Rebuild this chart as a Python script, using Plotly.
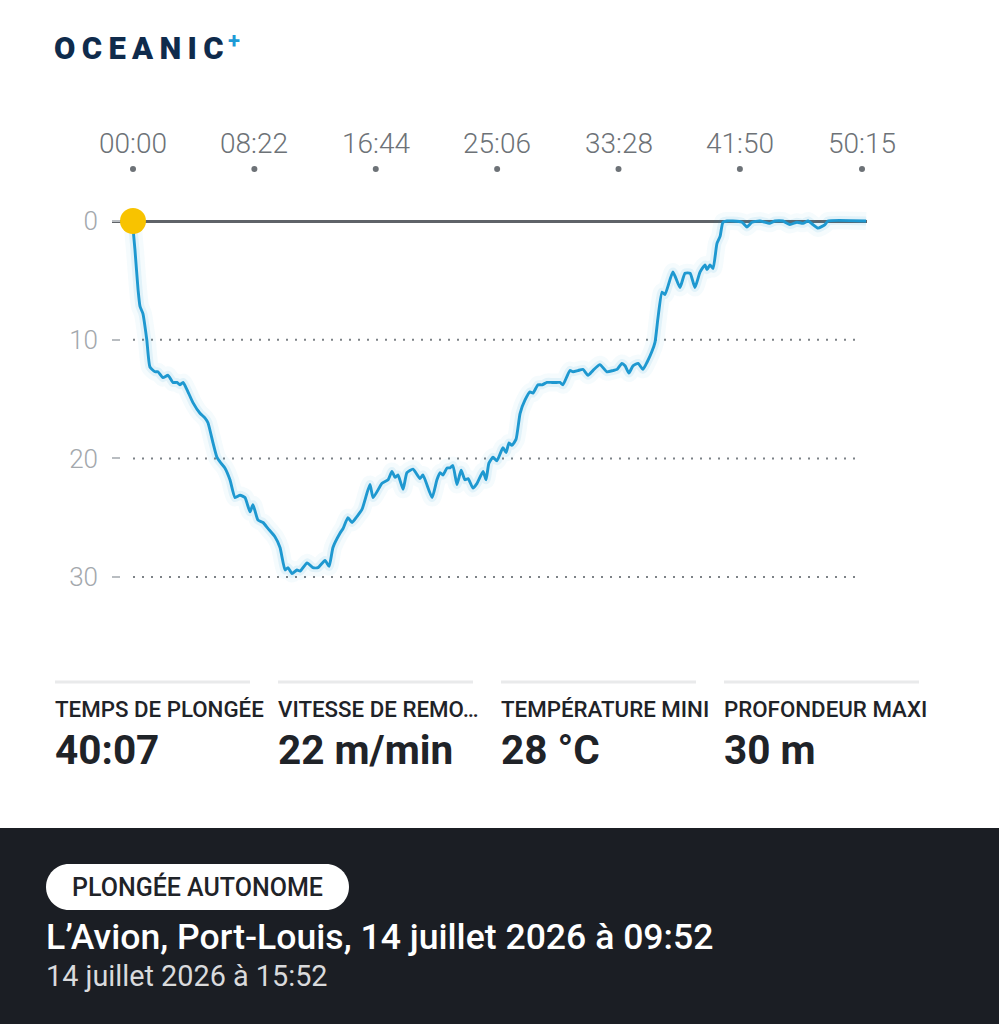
import plotly.graph_objects as go

# ---------------- data ----------------
time_s = [0, 2, 8, 21, 29, 41, 57, 70, 91, 103, 124, 145, 165, 182, 194, 207, 223, 248, 277, 298,
          310, 331, 347, 360, 380, 401, 422, 443, 463, 484, 496, 517, 538, 558, 587, 608, 629, 641,
          658, 678, 691, 720, 744, 765, 794, 811, 827, 856, 869, 889, 906, 926, 947, 980, 993, 1030,
          1055, 1071, 1084, 1096, 1117, 1133, 1158, 1187, 1199, 1237, 1257, 1270, 1282, 1299, 1311,
          1323, 1340, 1357, 1373, 1386, 1406, 1423, 1448, 1460, 1472, 1489, 1505, 1530, 1543, 1555,
          1567, 1584, 1601, 1621, 1642, 1654, 1675, 1692, 1712, 1733, 1754, 1766, 1778, 1807, 1820,
          1840, 1861, 1882, 1902, 1931, 1960, 1985, 2002, 2022, 2035, 2051, 2068, 2089, 2109, 2126,
          2146, 2159, 2171, 2188, 2200, 2233, 2262, 2283, 2304, 2324, 2345, 2366, 2374, 2386, 2399,
          2415, 2428, 2440, 2457, 2481, 2519, 2539, 2560, 2593, 2634, 2655, 2688, 2717, 2746, 2771,
          2792, 2812, 2833, 2862, 2874, 3032]
depth_m = [0.0, 1.0, 2.4, 5.8, 7.2, 7.8, 10.0, 12.3, 12.7, 12.7, 13.2, 13.0, 13.6, 13.6, 13.8, 13.6,
           14.2, 15.3, 16.2, 16.6, 17.0, 18.7, 19.9, 20.3, 20.8, 21.8, 23.3, 23.1, 23.3, 24.5, 23.9,
           25.2, 25.4, 25.9, 26.6, 27.5, 29.4, 29.2, 29.7, 29.4, 29.5, 28.8, 29.2, 29.2, 28.6, 29.1,
           27.5, 26.3, 25.9, 25.0, 25.4, 24.9, 24.3, 22.2, 23.3, 22.1, 21.8, 21.1, 21.6, 21.4, 22.6,
           21.2, 20.9, 21.7, 21.4, 23.3, 21.8, 21.2, 21.4, 20.8, 20.8, 20.6, 22.2, 21.0, 21.8, 21.7,
           22.5, 22.1, 21.1, 21.8, 20.4, 19.9, 20.2, 19.1, 19.5, 18.7, 18.9, 18.4, 16.2, 15.1, 14.4,
           14.5, 13.8, 13.8, 13.6, 13.6, 13.6, 13.6, 13.8, 12.6, 12.7, 12.6, 12.5, 13.0, 12.6, 12.1,
           12.7, 12.6, 12.5, 12.0, 12.2, 12.8, 12.2, 12.0, 12.5, 11.9, 11.0, 10.2, 8.2, 6.0, 6.2, 4.3,
           5.6, 4.4, 4.4, 5.6, 4.3, 3.7, 4.1, 3.7, 4.0, 1.9, 1.3, 0.1, 0.0, 0.0, 0.1, 0.5, 0.1, 0.0,
           0.2, 0.0, 0.0, 0.3, 0.1, 0.2, 0.0, 0.3, 0.6, 0.3, 0.0, 0.0]

tick_secs = [0, 502, 1004, 1506, 2008, 2510, 3015]
tick_text = ["00:00", "08:22", "16:44", "25:06", "33:28", "41:50", "50:15"]
depth_ticks = [0, 10, 20, 30]

stat_labels = ["TEMPS DE PLONGÉE", "VITESSE DE REMO…", "TEMPÉRATURE MINI", "PROFONDEUR MAXI"]
stat_values = ["40:07", "22 m/min", "28 °C", "30 m"]

brand = "\u2009".join("OCEANIC")
dive_type = "PLONGÉE AUTONOME"
dive_title = "L’Avion, Port-Louis, 14 juillet 2026 à 09:52"
dive_sub = "14 juillet 2026 à 15:52"

# ---------------- layout helpers ----------------
W, H = 999, 1024
FONT = "Roboto"


def px(x):
    return x / W


def py(y):
    return 1 - y / H


# x mapping: 133 px at t=0, 729 px per 3015 s
X_PX0, X_SCALE = 133.0, 729.0 / 3015.0
Y_PX0, Y_SCALE = 221.0, 11.87
xd0, xd1 = 112, 867
yd0, yd1 = 190, 620
x_range = [(xd0 - X_PX0) / X_SCALE, (xd1 - X_PX0) / X_SCALE]
y_range = [(yd1 - Y_PX0) / Y_SCALE, (yd0 - Y_PX0) / Y_SCALE]

fig = go.Figure()

blue = "#1e98d0"
fig.add_trace(go.Scatter(x=time_s, y=depth_m, mode="lines",
                         line=dict(color="rgba(30,152,208,0.045)", width=18, shape="spline", smoothing=0.5),
                         hoverinfo="skip", showlegend=False))
fig.add_trace(go.Scatter(x=time_s, y=depth_m, mode="lines",
                         line=dict(color="rgba(30,152,208,0.09)", width=9, shape="spline", smoothing=0.5),
                         hoverinfo="skip", showlegend=False))
fig.add_trace(go.Scatter(x=time_s, y=depth_m, mode="lines",
                         line=dict(color=blue, width=2.9, shape="spline", smoothing=0.5),
                         showlegend=False))
fig.add_trace(go.Scatter(x=[time_s[0]], y=[depth_m[0]], mode="markers",
                         marker=dict(size=26, color="#f8c300"), cliponaxis=False, showlegend=False))
fig.add_trace(go.Scatter(x=tick_secs, y=[0] * len(tick_secs), mode="markers", yaxis="y2",
                         marker=dict(size=6, color="#6d7277"), cliponaxis=False, showlegend=False,
                         hoverinfo="skip"))

shapes = []
# dotted gridlines
for d in depth_ticks[1:]:
    shapes.append(dict(type="line", xref="x", yref="y", x0=tick_secs[0], x1=tick_secs[-1], y0=d, y1=d,
                       line=dict(color="#7d8287", width=2, dash="2px,7px"), layer="below"))

# stats separators
stat_x = [55, 278, 501, 724]
for sx in stat_x:
    shapes.append(dict(type="line", xref="paper", yref="paper", x0=px(sx), x1=px(sx + 195),
                       y0=py(682), y1=py(682), line=dict(color="#e9eaeb", width=3)))

# dark band
shapes.append(dict(type="rect", xref="paper", yref="paper", x0=0, x1=1, y0=0, y1=py(828),
                   fillcolor="#1b1e24", line=dict(width=0), layer="below"))


# pill
def rounded_rect(x0, y0, x1, y1, r):
    k = 0.5523 * r
    pts = [
        f"M {px(x0 + r)},{py(y0)}",
        f"L {px(x1 - r)},{py(y0)}",
        f"C {px(x1 - r + k)},{py(y0)} {px(x1)},{py(y0 + r - k)} {px(x1)},{py(y0 + r)}",
        f"L {px(x1)},{py(y1 - r)}",
        f"C {px(x1)},{py(y1 - r + k)} {px(x1 - r + k)},{py(y1)} {px(x1 - r)},{py(y1)}",
        f"L {px(x0 + r)},{py(y1)}",
        f"C {px(x0 + r - k)},{py(y1)} {px(x0)},{py(y1 - r + k)} {px(x0)},{py(y1 - r)}",
        f"L {px(x0)},{py(y0 + r)}",
        f"C {px(x0)},{py(y0 + r - k)} {px(x0 + r - k)},{py(y0)} {px(x0 + r)},{py(y0)}",
        "Z",
    ]
    return " ".join(pts)


shapes.append(dict(type="path", xref="paper", yref="paper", path=rounded_rect(46, 864, 349, 910, 23),
                   fillcolor="#ffffff", line=dict(width=0)))

annotations = []
# logo
annotations.append(dict(text=brand, x=px(52), y=py(48), xref="paper", yref="paper",
                        xanchor="left", yanchor="middle", showarrow=False,
                        font=dict(family=FONT, size=31, color="#0f2b4c", weight=900)))
annotations.append(dict(text="<b>+</b>", x=px(234), y=py(40), xref="paper", yref="paper",
                        xanchor="center", yanchor="middle", showarrow=False,
                        font=dict(family=FONT, size=22, color="#1e9ad6", weight=900)))

# time tick labels
for t, lab in zip(tick_secs, tick_text):
    annotations.append(dict(text=lab, x=t, y=py(143), xref="x", yref="paper", xanchor="center",
                            yanchor="middle", showarrow=False,
                            font=dict(family=FONT, size=28, color="#6d7277", weight=300)))

# stats
for sx, lab, val in zip(stat_x, stat_labels, stat_values):
    annotations.append(dict(text=lab, x=px(sx - 2), y=py(709), xref="paper", yref="paper",
                            xanchor="left", yanchor="middle", showarrow=False,
                            font=dict(family=FONT, size=22.3, color="#1f2328", weight=500)))
    annotations.append(dict(text=f"<b>{val}</b>", x=px(sx - 2), y=py(750), xref="paper", yref="paper",
                            xanchor="left", yanchor="middle", showarrow=False,
                            font=dict(family=FONT, size=40.5, color="#1f2328")))

# bottom band texts
annotations.append(dict(text=dive_type, x=px(197.5), y=py(887), xref="paper", yref="paper",
                        xanchor="center", yanchor="middle", showarrow=False,
                        font=dict(family=FONT, size=25, color="#1f2328", weight=500)))
annotations.append(dict(text=dive_title, x=px(44), y=py(937), xref="paper", yref="paper",
                        xanchor="left", yanchor="middle", showarrow=False,
                        font=dict(family=FONT, size=35.6, color="#ffffff", weight=500)))
annotations.append(dict(text=dive_sub, x=px(44), y=py(976), xref="paper", yref="paper",
                        xanchor="left", yanchor="middle", showarrow=False,
                        font=dict(family=FONT, size=28.8, color="#d9dadc")))

fig.update_layout(
    width=W, height=H,
    margin=dict(l=0, r=0, t=0, b=0),
    paper_bgcolor="#ffffff", plot_bgcolor="rgba(0,0,0,0)",
    showlegend=False,
    xaxis=dict(domain=[px(xd0), px(xd1)], range=x_range, visible=False, fixedrange=True),
    yaxis=dict(domain=[py(yd1), py(yd0)], range=y_range, tickvals=depth_ticks,
               ticks="inside", ticklen=8, tickwidth=2, tickcolor="#b9bdc1",
               showgrid=False, showline=False,
               zeroline=True, zerolinecolor="#5f6368", zerolinewidth=2.5,
               tickfont=dict(family=FONT, size=26, color="#a3a8ad", weight=300),
               ticklabelstandoff=13, fixedrange=True),
    yaxis2=dict(domain=[py(175), py(163)], range=[-1, 1], visible=False, anchor="x", fixedrange=True),
    shapes=shapes,
    annotations=annotations,
)

fig.write_html("out.html", config={"displayModeBar": False},
               post_script="document.body.style.margin='0';document.body.style.overflow='hidden';")
